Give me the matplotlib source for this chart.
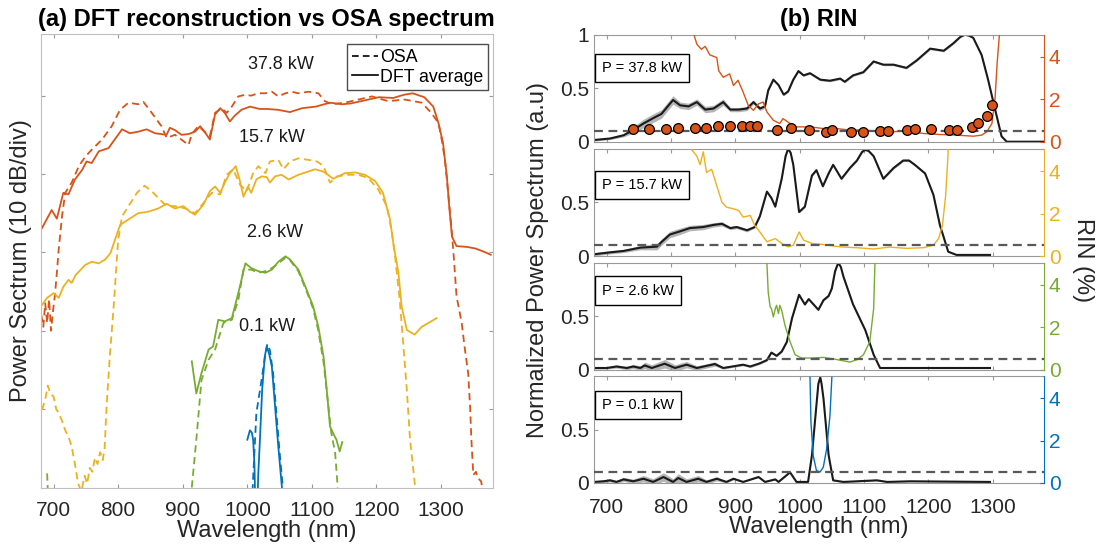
import numpy as np
import matplotlib.pyplot as plt

plt.rcParams['font.family'] = ['Liberation Sans', 'DejaVu Sans']

C_BLUE = '#0072BD'
C_ORANGE = '#D95319'
C_YELLOW = '#EDB120'
C_GREEN = '#77AC30'

# ---------------- (a) spectra, dB (10 dB/div, arbitrary offset) ----------------
p378_dft_nm = [682, 697, 705, 715, 723, 733, 744, 751, 759, 770, 785, 806, 818, 831, 844, 857, 875, 880,
               888, 898, 909, 919, 927, 937, 942, 950, 958, 965, 973, 980, 991, 1004, 1019, 1030, 1047,
               1066, 1085, 1106, 1128, 1147, 1160, 1182, 1204, 1226, 1242, 1256, 1274, 1288, 1296, 1303,
               1309, 1313, 1317, 1324, 1340, 1353, 1366, 1377]
p378_dft_db = [33.1, 35.4, 34.3, 37.6, 37.4, 39.3, 40.5, 41.6, 41.4, 42.9, 43.3, 45.7, 45.2, 45.4, 45.7,
               45.2, 45.0, 45.9, 45.6, 45.0, 45.1, 45.4, 46.1, 45.0, 44.4, 47.6, 48.4, 47.8, 46.7, 47.4,
               48.2, 48.6, 48.3, 48.3, 48.2, 47.9, 48.4, 48.6, 49.1, 48.9, 49.0, 49.4, 49.8, 49.7, 50.1,
               50.3, 49.8, 48.6, 46.5, 44.0, 39.7, 35.5, 32.0, 30.8, 30.7, 30.5, 30.1, 29.7]
p378_osa_nm = [681, 684, 687, 690, 693, 696, 699, 702, 705, 708, 713, 718, 728, 739, 749, 759, 775, 790,
               803, 816, 831, 839, 852, 867, 875, 888, 901, 909, 914, 924, 934, 942, 950, 960, 968, 976,
               986, 996, 1006, 1017, 1028, 1038, 1048, 1059, 1069, 1079, 1095, 1110, 1120, 1131, 1151,
               1172, 1193, 1218, 1244, 1270, 1285, 1296, 1301, 1306, 1311, 1316, 1320, 1324, 1332, 1337,
               1342, 1345, 1347, 1350, 1354, 1357, 1362, 1365]
p378_osa_db = [22.0, 20.5, 23.5, 21.0, 24.0, 20.0, 22.5, 24.5, 27.4, 30.5, 34.6, 37.6, 38.9, 41.0, 42.2,
               43.1, 44.4, 46.1, 48.2, 49.1, 48.9, 49.2, 47.8, 46.1, 44.6, 45.0, 44.2, 43.7, 45.1, 46.1,
               45.4, 44.8, 47.8, 48.4, 47.8, 48.6, 49.9, 50.1, 50.0, 50.3, 50.3, 50.5, 49.9, 50.3, 50.5,
               50.3, 50.5, 50.3, 49.3, 48.9, 49.1, 49.5, 49.9, 49.3, 49.5, 49.1, 47.8, 46.5, 44.4, 41.8,
               37.6, 33.3, 29.1, 24.4, 21.0, 17.6, 14.6, 10.3, 6.1, 1.6, 2.0, 1.2, 0.8, -0.5]

p157_dft_nm = [682, 690, 700, 708, 715, 723, 728, 734, 749, 759, 770, 780, 788, 795, 803, 816, 831, 847,
               862, 875, 888, 901, 911, 919, 932, 942, 950, 958, 965, 973, 982, 988, 994, 1001, 1006,
               1014, 1022, 1030, 1035, 1043, 1053, 1064, 1079, 1105, 1118, 1133, 1151, 1167, 1182, 1198,
               1210, 1221, 1226, 1234, 1239, 1247, 1259, 1270, 1293]
p157_dft_db = [23.3, 24.2, 24.8, 24.2, 25.6, 26.5, 26.1, 27.1, 28.4, 28.8, 28.6, 29.1, 29.9, 31.6, 33.5,
               34.2, 35.0, 35.2, 35.6, 36.2, 35.6, 35.9, 35.2, 34.8, 36.1, 37.8, 38.4, 37.6, 38.9, 40.1,
               41.0, 39.3, 37.1, 38.4, 37.6, 39.3, 39.7, 39.6, 38.9, 39.7, 39.9, 39.3, 39.9, 40.6, 40.3,
               39.4, 40.1, 40.2, 39.9, 39.1, 37.6, 34.2, 31.2, 27.4, 23.1, 20.1, 19.5, 20.5, 21.6]
p157_osa_nm = [682, 687, 691, 695, 700, 704, 708, 713, 718, 723, 728, 733, 738, 743, 748, 752, 756, 760,
               764, 768, 772, 776, 779, 782, 787, 793, 797, 800, 806, 816, 829, 841, 852, 865, 875, 888,
               904, 919, 934, 945, 958, 968, 978, 989, 999, 1009, 1017, 1028, 1035, 1048, 1056, 1066,
               1079, 1095, 1108, 1118, 1128, 1139, 1156, 1172, 1187, 1203, 1216, 1224, 1229, 1236, 1241,
               1247, 1252, 1260]
p157_osa_db = [9.9, 11.2, 13.0, 12.0, 11.6, 10.0, 9.5, 8.5, 7.3, 6.5, 5.2, 3.0, 0.5, -0.5, 1.5, 0.5, 2.5,
               2.0, 3.8, 3.0, 4.5, 3.5, 5.0, 10.3, 16.7, 23.1, 28.0, 31.6, 34.6, 35.9, 37.6, 38.5, 37.8,
               36.7, 35.9, 35.9, 35.6, 35.0, 36.5, 37.6, 37.4, 39.9, 40.6, 38.6, 37.8, 40.1, 41.0, 40.1,
               41.6, 41.8, 40.6, 41.6, 42.0, 41.8, 41.6, 41.0, 38.9, 39.7, 39.9, 39.9, 39.5, 38.0, 35.9,
               32.5, 29.3, 23.9, 18.8, 12.5, 6.1, 0.0]

p26_dft_nm = [914, 921, 929, 940, 947, 955, 965, 976, 986, 997, 1006, 1017, 1028, 1038, 1048, 1059, 1066,
              1079, 1092, 1102, 1110, 1118, 1123, 1128, 1133, 1138, 1143, 1147]
p26_dft_db = [16.1, 12.0, 14.6, 17.6, 18.0, 21.4, 21.2, 21.6, 24.8, 28.6, 28.0, 27.6, 27.4, 27.8, 28.8,
              29.5, 29.1, 27.8, 25.2, 23.1, 20.5, 16.7, 12.5, 7.8, 6.9, 6.1, 4.6, 5.8]
p26_osa_nm = [914, 921, 929, 940, 950, 963, 976, 986, 994, 1006, 1017, 1028, 1038, 1048, 1059, 1066, 1079,
              1092, 1102, 1110, 1118, 1124, 1130, 1136, 1140]
p26_osa_db = [0.0, 6.1, 13.7, 16.3, 17.6, 21.0, 21.4, 23.9, 27.8, 27.8, 27.4, 27.6, 28.0, 28.6, 29.3,
              29.0, 27.6, 25.0, 22.8, 20.0, 16.0, 11.5, 7.0, 4.4, 0.0]
p26_osa_edge_nm = [690, 691]
p26_osa_edge_db = [1.8, -0.5]

p01_dft_nm = [1000, 1004, 1007, 1009, 1011, 1012, 1016, 1017, 1019.5, 1023, 1027, 1030, 1034, 1038, 1043,
              1048, 1053.5, 1055]
p01_dft_db = [6.1, 7.3, 7.0, 6.1, 3.0, -1.0, -1.0, 1.8, 6.1, 12.5, 16.7, 18.0, 17.0, 15.4, 10.3, 5.2, 0.1,
              -1.0]
p01_osa_nm = [1008, 1014, 1022, 1027, 1031, 1035, 1040, 1045, 1050, 1055]
p01_osa_db = [-0.5, 9.5, 13.7, 16.5, 18.3, 17.5, 14.5, 9.5, 4.5, 0.0]

power_labels = ['37.8 kW', '15.7 kW', '2.6 kW', '0.1 kW']
power_label_nm = [1052, 1038, 1043, 1030]
power_label_db = [54.0, 44.6, 32.5, 20.5]

# ---------------- (b) normalized spectra (black, with std band) and RIN ----------------
b1_nm = [680, 705, 726, 741, 757, 772, 785, 796, 803, 814, 827, 840, 853, 866, 881, 892, 905, 918, 928,
         938, 946, 951, 959, 967, 975, 982, 990, 998, 1006, 1016, 1032, 1047, 1063, 1070, 1083, 1099,
         1115, 1130, 1146, 1166, 1182, 1203, 1224, 1239, 1250, 1257, 1264, 1270, 1283, 1293, 1304, 1314,
         1322, 1380]
b1_val = [0.016, 0.03, 0.06, 0.11, 0.17, 0.22, 0.26, 0.34, 0.39, 0.34, 0.33, 0.37, 0.30, 0.31, 0.37, 0.30,
          0.30, 0.31, 0.37, 0.31, 0.33, 0.48, 0.58, 0.53, 0.44, 0.47, 0.58, 0.66, 0.62, 0.64, 0.58, 0.57,
          0.59, 0.56, 0.62, 0.65, 0.75, 0.72, 0.72, 0.69, 0.76, 0.87, 0.85, 0.92, 0.98, 1.0, 0.99, 0.97,
          0.81, 0.58, 0.30, 0.05, 0.0, 0.0]
b1_std = [0.01, 0.01, 0.015, 0.03, 0.04, 0.04, 0.04, 0.04, 0.04, 0.03, 0.03, 0.03, 0.03, 0.03, 0.03, 0.02,
          0.02, 0.02, 0.02, 0.02, 0.015, 0.01, 0.01, 0.01, 0.01, 0.01, 0.01, 0.01, 0.01, 0.01, 0.01, 0.01,
          0.01, 0.01, 0.01, 0.01, 0.01, 0.01, 0.01, 0.01, 0.01, 0.01, 0.01, 0.01, 0.005, 0.005, 0.005,
          0.005, 0.005, 0.005, 0.005, 0.005, 0.0, 0.0]
r1_nm = [834, 840, 847, 853, 860, 871, 874, 881, 891, 897, 904, 912, 920, 928, 936, 943, 949, 959, 969,
         974, 985, 995, 1016, 1037, 1057, 1078, 1099, 1120, 1140, 1166, 1192, 1218, 1244, 1270, 1283,
         1291, 1299, 1304, 1307, 1311]
r1_val = [5.2, 4.6, 4.36, 4.5, 4.1, 3.97, 3.35, 3.04, 3.2, 2.65, 2.9, 2.34, 1.71, 1.48, 1.79, 1.87, 1.4,
          1.01, 0.86, 1.09, 0.86, 0.70, 0.70, 0.62, 0.62, 0.55, 0.55, 0.50, 0.47, 0.50, 0.39, 0.34, 0.31,
          0.26, 0.31, 0.47, 0.86, 2.1, 3.66, 5.2]
rin_pts_nm = [741, 766, 792, 811, 837, 855, 873, 892, 911, 922, 933, 965, 986, 1015, 1041, 1051, 1080,
              1098, 1125, 1137, 1167, 1179, 1204, 1233, 1244, 1268, 1278, 1291, 1299]
rin_pts_val = [0.59, 0.59, 0.58, 0.64, 0.64, 0.65, 0.72, 0.72, 0.73, 0.73, 0.76, 0.56, 0.64, 0.56, 0.44,
               0.56, 0.47, 0.47, 0.50, 0.50, 0.53, 0.59, 0.59, 0.53, 0.55, 0.70, 0.86, 1.23, 1.71]

b2_nm = [680, 705, 726, 752, 778, 785, 798, 814, 829, 850, 866, 879, 892, 902, 918, 930, 938, 949, 956,
         962, 972, 978, 982, 986, 990, 999, 1008, 1019, 1026, 1036, 1045, 1052, 1065, 1078, 1089, 1097,
         1102, 1107, 1115, 1130, 1146, 1161, 1170, 1179, 1195, 1208, 1218, 1231, 1244, 1296]
b2_val = [0.016, 0.034, 0.047, 0.078, 0.087, 0.13, 0.20, 0.23, 0.26, 0.27, 0.29, 0.30, 0.26, 0.27, 0.24,
          0.27, 0.37, 0.60, 0.54, 0.46, 0.72, 0.93, 1.0, 0.96, 0.85, 0.41, 0.46, 0.75, 0.80, 0.65, 0.77,
          0.85, 0.72, 0.82, 0.89, 0.97, 0.99, 0.98, 0.93, 0.72, 0.82, 0.89, 0.89, 0.85, 0.77, 0.57, 0.29,
          0.04, 0.01, 0.01]
b2_std = [0.015, 0.015, 0.015, 0.02, 0.03, 0.03, 0.03, 0.03, 0.025, 0.025, 0.02, 0.02, 0.015, 0.015, 0.015,
          0.01, 0.01, 0.01, 0.01, 0.01, 0.01, 0.01, 0.01, 0.01, 0.01, 0.01, 0.01, 0.01, 0.01, 0.01, 0.01,
          0.01, 0.01, 0.01, 0.01, 0.01, 0.01, 0.01, 0.01, 0.01, 0.01, 0.01, 0.01, 0.01, 0.01, 0.01, 0.01,
          0.005, 0.005, 0.005]
r2_nm = [832, 840, 845, 850, 855, 863, 871, 879, 886, 897, 905, 912, 923, 930, 938, 949, 962, 972, 982,
         990, 999, 1006, 1019, 1037, 1063, 1089, 1115, 1140, 1166, 1192, 1208, 1216, 1222, 1227, 1230,
         1231]
r2_val = [5.0, 4.7, 4.3, 4.9, 3.93, 4.08, 3.3, 2.53, 2.3, 2.22, 2.14, 1.83, 1.91, 1.44, 1.13, 0.67, 0.82,
          0.59, 0.43, 0.51, 1.13, 0.75, 0.59, 0.54, 0.43, 0.39, 0.33, 0.42, 0.36, 0.39, 0.51, 0.82, 1.44,
          2.84, 4.39, 5.0]

b3_nm = [680, 700, 715, 731, 741, 752, 759, 770, 790, 806, 824, 840, 868, 881, 912, 923, 938, 949, 956,
         964, 972, 980, 988, 999, 1008, 1014, 1029, 1037, 1045, 1050, 1055, 1060, 1064, 1068, 1083, 1102,
         1115, 1125, 1296]
b3_val = [0.016, 0.016, 0.03, 0.016, 0.03, 0.016, 0.04, 0.016, 0.056, 0.016, 0.047, 0.016, 0.053, 0.016,
          0.047, 0.03, 0.06, 0.09, 0.16, 0.13, 0.17, 0.26, 0.48, 0.70, 0.61, 0.66, 0.56, 0.65, 0.69, 0.76,
          0.92, 1.0, 0.96, 0.87, 0.61, 0.37, 0.14, 0.016, 0.016]
b3_std = [0.01, 0.01, 0.015, 0.015, 0.02, 0.02, 0.03, 0.03, 0.04, 0.03, 0.03, 0.02, 0.02, 0.01, 0.01, 0.01,
          0.01, 0.01, 0.01, 0.01, 0.01, 0.01, 0.01, 0.01, 0.01, 0.01, 0.01, 0.01, 0.01, 0.01, 0.01, 0.01,
          0.01, 0.01, 0.01, 0.01, 0.01, 0.005, 0.005]
r3_nm = [949, 951, 954, 956, 959, 962, 964, 967, 969, 972, 977, 985, 993, 1003, 1016, 1037, 1052, 1068,
         1078, 1089, 1099, 1109, 1115, 1117]
r3_val = [5.0, 3.66, 2.96, 2.88, 2.49, 2.88, 3.04, 2.65, 3.04, 2.8, 2.1, 1.32, 0.70, 0.55, 0.55, 0.58,
          0.51, 0.42, 0.36, 0.47, 0.70, 1.32, 2.88, 5.0]

b4_nm = [680, 695, 705, 715, 726, 741, 757, 772, 788, 803, 811, 824, 842, 855, 871, 886, 897, 912, 936,
         946, 962, 967, 985, 995, 1013, 1019, 1026, 1029, 1032, 1034, 1037, 1045, 1052, 1068, 1120, 1136,
         1172, 1296]
b4_val = [0.01, 0.016, 0.025, 0.01, 0.034, 0.016, 0.04, 0.01, 0.056, 0.01, 0.047, 0.01, 0.04, 0.01, 0.04,
          0.01, 0.04, 0.01, 0.056, 0.01, 0.034, 0.01, 0.10, 0.01, 0.01, 0.26, 0.73, 0.93, 0.99, 0.93, 0.79,
          0.26, 0.025, 0.01, 0.025, 0.01, 0.016, 0.01]
b4_std = [0.01, 0.015, 0.015, 0.015, 0.02, 0.02, 0.03, 0.03, 0.04, 0.03, 0.04, 0.03, 0.03, 0.02, 0.02, 0.01,
          0.01, 0.005, 0.005, 0.005, 0.005, 0.005, 0.005, 0.005, 0.005, 0.005, 0.005, 0.005, 0.005, 0.005,
          0.005, 0.005, 0.005, 0.005, 0.005, 0.005, 0.005, 0.005]
r4_nm = [1016, 1017.5, 1021, 1026, 1031.6, 1036.7, 1041.8, 1047, 1050]
r4_val = [5.0, 2.86, 1.3, 0.59, 0.52, 0.75, 1.6, 3.17, 5.0]

rin_threshold = 0.5
panel_labels = ['P = 37.8 kW', 'P = 15.7 kW', 'P = 2.6 kW', 'P = 0.1 kW']

W, H = 1102, 544
fig = plt.figure(figsize=(W / 100, H / 100), dpi=100)

# ---------------- panel (a) ----------------
ax = fig.add_axes([40.7 / W, 1 - 487.5 / H, 452 / W, 453 / H])
dash = (0, (4, 2.5))
for nm, db, c in [(p378_osa_nm, p378_osa_db, C_ORANGE), (p157_osa_nm, p157_osa_db, C_YELLOW),
                  (p26_osa_nm, p26_osa_db, C_GREEN), (p26_osa_edge_nm, p26_osa_edge_db, C_GREEN),
                  (p01_osa_nm, p01_osa_db, C_BLUE)]:
    ax.plot(nm, db, color=c, lw=1.3, ls=dash)
for nm, db, c in [(p378_dft_nm, p378_dft_db, C_ORANGE), (p157_dft_nm, p157_dft_db, C_YELLOW),
                  (p26_dft_nm, p26_dft_db, C_GREEN), (p01_dft_nm, p01_dft_db, C_BLUE)]:
    ax.plot(nm, db, color=c, lw=1.3)
for lab, x, y in zip(power_labels, power_label_nm, power_label_db):
    ax.text(x, y, lab, ha='center', va='center', fontsize=13, color='0.1')

ax.plot([], [], color='k', lw=1.2, ls=dash, label='OSA')
ax.plot([], [], color='k', lw=1.2, label='DFT average')
leg = ax.legend(loc='upper right', bbox_to_anchor=(0.989, 0.978), borderaxespad=0, fontsize=12.8,
                handlelength=1.5, handletextpad=0.1, fancybox=False, framealpha=1,
                borderpad=0.25, labelspacing=0.15)
leg.get_frame().set_edgecolor('0.3')
leg.get_frame().set_linewidth(1.0)

ax.set_xlim(680, 1380)
ax.set_ylim(0, 57.8)
ax.set_xticks(range(700, 1301, 100))
ax.set_yticks([10, 20, 30, 40, 50])
ax.set_yticklabels([])
ax.tick_params(direction='in', length=3, top=True, right=True, color='0.6', labelcolor='0.15',
               labelsize=15, pad=9.5)
for s in ax.spines.values():
    s.set_color('0.75')
ax.set_title('(a) DFT reconstruction vs OSA spectrum', fontsize=17, fontweight='bold', pad=6)
fig.text(266.7 / W, 1 - 531 / H, 'Wavelength (nm)', ha='center', va='center', fontsize=17, color='0.15')
fig.text(21 / W, 1 - 261 / H, 'Power Sectrum (10 dB/div)', ha='center', va='center', rotation=90,
         fontsize=17, color='0.15')

# ---------------- panel (b) ----------------
rows = [(34.7, 141.7), (148.7, 256.0), (262.7, 369.7), (376.3, 483.0)]
blacks = [(b1_nm, b1_val, b1_std), (b2_nm, b2_val, b2_std), (b3_nm, b3_val, b3_std), (b4_nm, b4_val, b4_std)]
rins = [(r1_nm, r1_val), (r2_nm, r2_val), (r3_nm, r3_val), (r4_nm, r4_val)]
colors = [C_ORANGE, C_YELLOW, C_GREEN, C_BLUE]
box_y = [0.69, 0.66, 0.74, 0.73]

for i, (top, bot) in enumerate(rows):
    a = fig.add_axes([594 / W, 1 - bot / H, 450 / W, (bot - top) / H])
    tw = a.twinx()
    nm, val, sd = (np.array(v, dtype=float) for v in blacks[i])
    a.fill_between(nm, val - sd, val + sd, color='#b5b5b5', lw=0)
    a.plot(nm, val, color='#1a1a1a', lw=1.5)
    rnm, rval = rins[i]
    tw.plot(rnm, rval, color=colors[i], lw=1.0)
    tw.axhline(rin_threshold, color='0.35', lw=1.6, ls=(0, (4, 2.5)))
    if i == 0:
        tw.plot(rin_pts_nm, rin_pts_val, 'o', ms=7, mfc=C_ORANGE, mec='k', mew=0.9, zorder=5)

    a.set_xlim(680, 1380)
    a.set_ylim(0, 1)
    tw.set_ylim(0, 5.05)
    a.set_xticks(range(700, 1301, 100))
    if i == 0:
        a.set_yticks([0, 0.5, 1])
        a.set_yticklabels(['0', '0.5', '1'])
    else:
        a.set_yticks([0, 0.5])
        a.set_yticklabels(['0', '0.5'])
    tw.set_yticks([0, 2, 4])
    a.tick_params(axis='x', direction='in', length=3, top=True, color='0.6', labelcolor='0.15',
                  labelsize=15, pad=10.5, labelbottom=(i == 3))
    a.tick_params(axis='y', direction='in', length=3, color='0.6', labelcolor='0.15', labelsize=15)
    tw.tick_params(axis='y', direction='in', length=3, color=colors[i], labelcolor=colors[i], labelsize=15)
    for s in ['left', 'top', 'bottom']:
        a.spines[s].set_color('0.6')
        tw.spines[s].set_visible(False)
    a.spines['right'].set_visible(False)
    tw.spines['right'].set_color(colors[i])
    a.text(0.018, box_y[i], panel_labels[i], transform=a.transAxes, ha='left', va='center',
           fontsize=10.5, color='k', zorder=10,
           bbox=dict(boxstyle='square,pad=0.5', fc='white', ec='k', lw=1.0))
    if i == 0:
        a.set_title('(b) RIN', fontsize=17, fontweight='bold', pad=6)

fig.text(819 / W, 1 - 527 / H, 'Wavelength (nm)', ha='center', va='center', fontsize=17, color='0.15')
fig.text(538 / W, 1 - 260 / H, 'Normalized Power Spectrum (a.u)', ha='center', va='center', rotation=90,
         fontsize=17, color='0.15')
fig.text(1083 / W, 1 - 260 / H, 'RIN (%)', ha='center', va='center', rotation=270,
         fontsize=17, color='0.15')

fig.savefig('out.png', dpi=100)
